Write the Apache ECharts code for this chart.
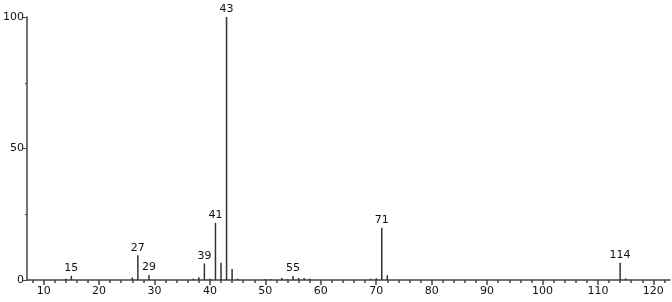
<!DOCTYPE html>
<html><head><meta charset="utf-8">
<script src="https://cdn.jsdelivr.net/npm/echarts@6/dist/echarts.min.js"></script>
<style>html,body{margin:0;padding:0;background:#fff}#c{width:672px;height:302px}</style>
</head><body><div id="c"></div>
<script>
const mz =        [14, 15, 26, 27, 29, 37, 38, 39, 40, 41, 42, 43, 44, 45, 50, 51, 53, 54, 55, 56, 57, 58, 69, 70, 71, 72, 114, 115];
const intensity = [0.5,1.6,1.0,9.4,1.9,0.5,1.0,6.3,0.5,21.7,6.6,100,4.2,0.5,0.3,0.4,0.8,0.3,1.5,0.8,0.8,0.5,0.5,0.7,19.9,1.8,6.6,0.6];
const labeled = [15, 27, 29, 39, 41, 43, 55, 71, 114];
const xMajor = [10,20,30,40,50,60,70,80,90,100,110,120];
const xMinor = [8,12,14,16,18,22,24,26,28,32,34,36,38,42,44,46,48,52,54,56,58,62,64,66,68,72,74,76,78,82,84,86,88,92,94,96,98,102,104,106,108,112,114,116,118,122];
const yTicks = [0, 50, 100];

const chart = echarts.init(document.getElementById('c'));
const data = mz.map((m, i) => {
  const d = { value: [m, intensity[i]] };
  if (labeled.includes(m)) d.label = { show: true };
  return d;
});
const axisColor = '#444';
chart.setOption({
  animation: false,
  grid: { left: 27, right: 2, top: 17, bottom: 22 },
  xAxis: [{
    type: 'value', min: 7, max: 123,
    axisLine: { onZero: false, lineStyle: { color: axisColor, width: 1.5 } },
    axisTick: { show: true, length: 5, lineStyle: { color: axisColor, width: 1.5 }, customValues: xMajor },
    axisLabel: { color: '#111', fontFamily: 'DejaVu Sans', fontSize: 11, margin: 6, customValues: xMajor },
    splitLine: { show: false }
  }, {
    type: 'value', min: 7, max: 123, position: 'bottom',
    axisLine: { show: false, onZero: false },
    axisTick: { show: true, length: 3, lineStyle: { color: axisColor, width: 1.5 }, customValues: xMinor },
    axisLabel: { show: false },
    splitLine: { show: false }
  }],
  yAxis: {
    type: 'value', min: 0, max: 100, interval: 50,
    axisLine: { show: true, lineStyle: { color: axisColor, width: 1.5 } },
    axisTick: { show: true, length: 5, lineStyle: { color: axisColor, width: 1 } },
    minorTick: { show: true, splitNumber: 2, length: 2, lineStyle: { color: axisColor } },
    axisLabel: { color: '#111', fontFamily: 'DejaVu Sans', fontSize: 11, margin: 3 },
    splitLine: { show: false }
  },
  series: [{
    type: 'bar', barWidth: 1.5, data: data, xAxisIndex: 0,
    itemStyle: { color: '#333' },
    label: { show: false, position: 'top', distance: 2, color: '#111', fontFamily: 'DejaVu Sans', fontSize: 11,
      formatter: p => String(p.value[0]) }
  }]
});
</script></body></html>
